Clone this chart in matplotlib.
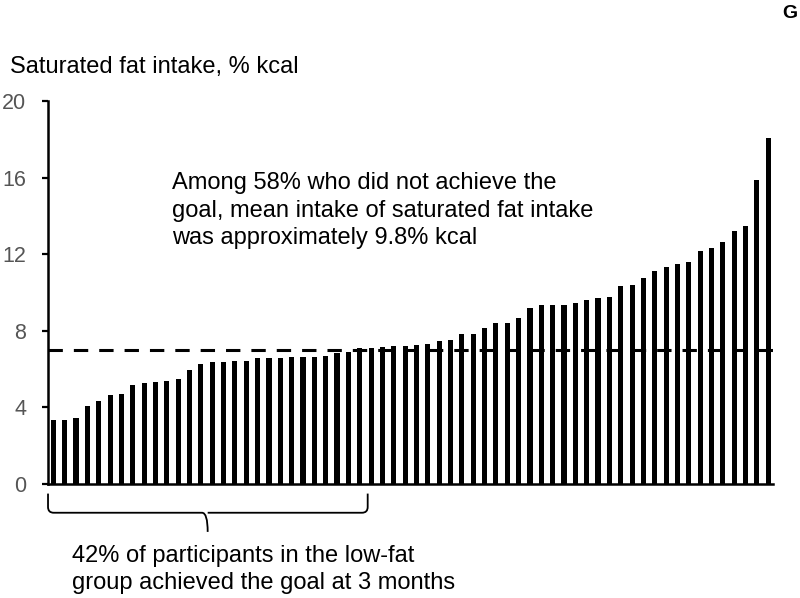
import numpy as np
import matplotlib
matplotlib.use("Agg")
import matplotlib.pyplot as plt
from matplotlib.path import Path
from matplotlib.patches import PathPatch

# saturated fat intake per participant, sorted (% kcal)
sat_fat_values = [
    3.34, 3.34, 3.46, 4.07, 4.33, 4.65, 4.70, 5.17, 5.26, 5.31,
    5.39, 5.50, 5.97, 6.27, 6.36, 6.38, 6.40, 6.45, 6.56, 6.56,
    6.59, 6.61, 6.61, 6.65, 6.68, 6.82, 6.91, 7.12, 7.12, 7.15,
    7.19, 7.22, 7.26, 7.29, 7.47, 7.54, 7.83, 7.83, 8.15, 8.39,
    8.39, 8.67, 9.19, 9.33, 9.35, 9.35, 9.45, 9.61, 9.71, 9.78,
    10.34, 10.39, 10.77, 11.12, 11.35, 11.51, 11.61, 12.15, 12.34, 12.64,
    13.23, 13.47, 15.87, 18.05,
]
goal_line = 7
y_ticks = [0, 4, 8, 12, 16, 20]

plt.rcParams["font.family"] = ["Liberation Sans", "DejaVu Sans"]

fig = plt.figure(figsize=(8, 5.98), dpi=100)
ax = fig.add_axes([0.0596, 0.1906, 0.9064, 0.6404])

x_pos = np.arange(len(sat_fat_values))
ax.bar(x_pos, sat_fat_values, width=0.45, color="black")
ax.axhline(goal_line, color="black", lw=2.2, dashes=(4.7, 3.6))

ax.set_xlim(-0.5, 63.4)
ax.set_ylim(0, 20)
ax.set_yticks(y_ticks)
ax.set_xticks([])
ax.tick_params(axis="y", direction="out", length=4.5, width=1.6, labelsize=15.5,
               labelcolor="#555555", pad=11)
for side in ["top", "right"]:
    ax.spines[side].set_visible(False)
ax.spines["left"].set_linewidth(1.8)
ax.spines["bottom"].set_linewidth(1.8)

# curly bracket under the participants who achieved the goal
bx0, bx1, bmid = -0.47, 27.7, 13.6
y_top, y_bar, y_tip = -0.5, -1.5, -2.5
r = 0.5
verts = [
    (bx0, y_top), (bx0, y_bar + 0.3), (bx0, y_bar), (bx0 + r, y_bar),
    (bmid - r, y_bar), (bmid, y_bar), (bmid, y_tip),
    (bmid, y_bar), (bmid + r, y_bar),
    (bx1 - r, y_bar), (bx1, y_bar), (bx1, y_bar + 0.3), (bx1, y_top),
]
codes = [
    Path.MOVETO, Path.LINETO, Path.CURVE3, Path.CURVE3,
    Path.LINETO, Path.CURVE3, Path.CURVE3,
    Path.MOVETO, Path.CURVE3,
    Path.LINETO, Path.CURVE3, Path.CURVE3, Path.LINETO,
]
ax.add_patch(PathPatch(Path(verts, codes), fill=False, lw=1.3, color="black", clip_on=False))

fig.text(10 / 800, 1 - 67 / 598, "Saturated fat intake, % kcal", fontsize=17, va="center")
fig.text(172 / 800, 1 - 172 / 598,
         "Among 58% who did not achieve the\ngoal, mean intake of saturated fat intake\nwas approximately 9.8% kcal",
         fontsize=17, va="top", linespacing=1.33)
fig.text(72 / 800, 1 - 545 / 598,
         "42% of participants in the low-fat\ngroup achieved the goal at 3 months",
         fontsize=17, va="top", linespacing=1.27)
fig.text(790 / 800, 1 - 13 / 598, "G", fontsize=14, fontweight="bold", va="center", ha="center")

plt.savefig("out.png", dpi=100)
